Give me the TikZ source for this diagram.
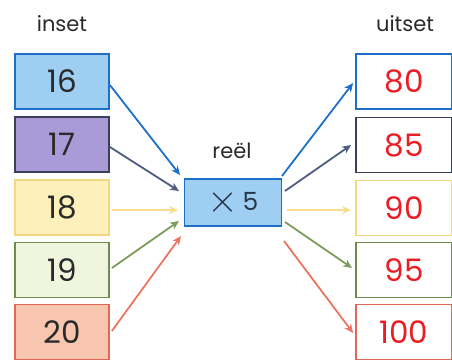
\documentclass[tikz,border=0pt]{standalone}
\usepackage{fontspec}
\usepackage{graphicx}
\setmainfont{Poppins}
\usetikzlibrary{arrows.meta}
\definecolor{cblue}{HTML}{1E6FC8}
\definecolor{fblue}{HTML}{9ECFF2}
\definecolor{cnavy}{HTML}{3A3F5C}
\definecolor{fpurp}{HTML}{A99BD8}
\definecolor{cyell}{HTML}{F4D782}
\definecolor{fyell}{HTML}{FDF0BA}
\definecolor{cgreen}{HTML}{6E8C4C}
\definecolor{fgreen}{HTML}{F0F6DE}
\definecolor{cred}{HTML}{E2675A}
\definecolor{fsalm}{HTML}{F8C6AE}
\definecolor{anavy}{HTML}{4E5C80}
\definecolor{ayell}{HTML}{F6DE8E}
\definecolor{agreen}{HTML}{7C9C5C}
\definecolor{ared}{HTML}{EA7564}
\definecolor{tred}{HTML}{EC1C24}
\definecolor{tdark}{HTML}{2A2A2A}
\tikzset{
  inbox/.style={draw, line width=1.8pt, minimum width=94pt, minimum height=55pt, inner sep=0pt, font=\fontsize{31}{31}\selectfont, text=tdark},
  outbox/.style={draw, fill=white, line width=1.8pt, minimum width=96pt, minimum height=55pt, inner sep=0pt, font=\fontsize{31}{31}\selectfont, text=tred},
  lbl/.style={font=\fontsize{21}{21}\selectfont, text=tdark, inner sep=0pt},
  arr/.style={line width=1.8pt, -{Stealth[length=9pt,width=8pt]}},
}
\begin{document}
\begin{tikzpicture}[x=1pt,y=-1pt]
\useasboundingbox (0,0) rectangle (452,363);
\node[lbl] (inset) at (62,24) {inset};
\node[lbl] (uitset) at (405,24) {uitset};
\node[lbl] (reel) at (232,151) {reël};
% input boxes
\node[inbox, draw=cblue, fill=fblue] (i16) at (62,81.5) {16};
\node[inbox, draw=cnavy, fill=fpurp] (i17) at (62,144.5) {17};
\node[inbox, draw=cyell, fill=fyell] (i18) at (62,207.5) {18};
\node[inbox, draw=cgreen, fill=fgreen] (i19) at (62,270) {19};
\node[inbox, draw=cred, fill=fsalm] (i20) at (62,332) {20};
% function box
\node[draw=cblue, fill=fblue, line width=1.8pt, minimum width=97pt, minimum height=47pt, inner sep=0pt, font=\fontsize{25}{25}\selectfont, text=tdark!80!cblue] (f) at (233,202.5) {\raisebox{-1.5pt}{\scalebox{1.6}{$\times$}}\,5};
% output boxes
\node[outbox, draw=cblue] (o80) at (404,81.5) {80};
\node[outbox, draw=cnavy] (o85) at (404,145) {85};
\node[outbox, draw=cyell] (o90) at (404,208) {90};
\node[outbox, draw=cgreen] (o95) at (404,270) {95};
\node[outbox, draw=cred] (o100) at (404,332) {100};
% coordinates for arrow ends
\coordinate (a16) at (180,175);
\coordinate (a17) at (179,191);
\coordinate (a18) at (178,210);
\coordinate (a19) at (179,221);
\coordinate (a20) at (181,236);
\coordinate (b80) at (282,176);
\coordinate (b85) at (285,191);
\coordinate (b90) at (287,210);
\coordinate (b95) at (285,222);
\coordinate (b100) at (284,241);
% input arrows
\draw[arr, cblue] (i16.east |- 0,85) -- (a16);
\draw[arr, anavy] (i17.east |- 0,147) -- (a17);
\draw[arr, ayell] ([xshift=2pt]i18.east |- 0,210) -- (a18);
\draw[arr, agreen] ([xshift=2pt]i19.east |- 0,268) -- (a19);
\draw[arr, ared] ([xshift=2pt]i20.east |- 0,331) -- (a20);
% output arrows
\draw[arr, cblue] (b80) -- ([xshift=-2pt]o80.west |- 0,83);
\draw[arr, anavy] (b85) -- ([xshift=-4pt]o85.west |- 0,145);
\draw[arr, ayell] (b90) -- ([xshift=-4pt]o90.west |- 0,210);
\draw[arr, agreen] (b95) -- ([xshift=-3pt]o95.west |- 0,268);
\draw[arr, ared] (b100) -- ([xshift=-2pt]o100.west |- 0,333);
\end{tikzpicture}
\end{document}
